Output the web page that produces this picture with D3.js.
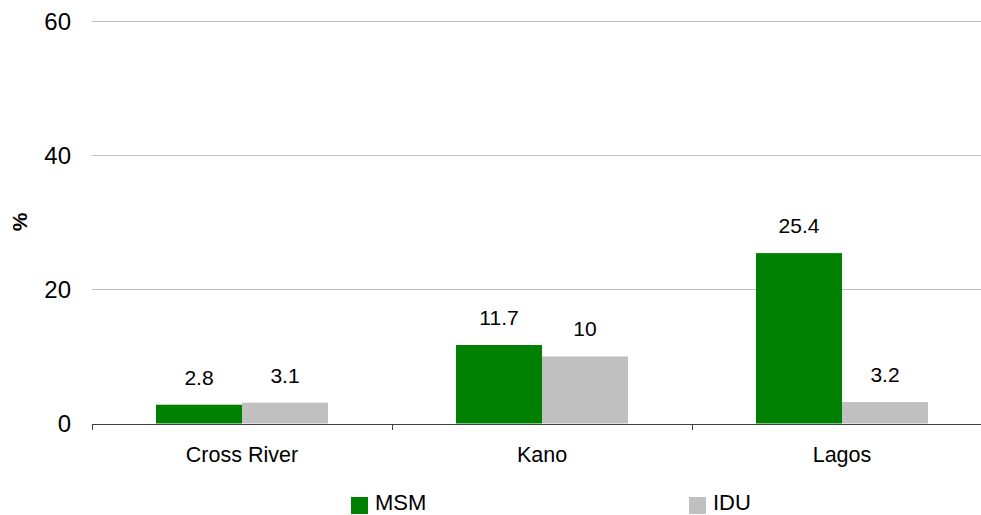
<!DOCTYPE html>
<html>
<head>
<meta charset="utf-8">
<script src="https://cdn.jsdelivr.net/npm/d3@7"></script>
<style>
  html, body { margin: 0; padding: 0; background: #fff; }
  svg { display: block; font-family: "Liberation Sans", Arial, sans-serif; }
</style>
</head>
<body>
<svg id="chart" width="981" height="515"></svg>
<script>
const categories = ["Cross River", "Kano", "Lagos"];
const seriesNames = ["MSM", "IDU"];
const msmValues = [2.8, 11.7, 25.4];
const iduValues = [3.1, 10, 3.2];
const valueLabels = [["2.8", "11.7", "25.4"], ["3.1", "10", "3.2"]];
const yTicks = [0, 20, 40, 60];
const colors = ["#008000", "#c0c0c0"];

(function () {
const svg = d3.select("#chart");
const plotLeft = 92, plotRight = 992, plotTop = 21, plotBottom = 423.5;

const x = d3.scaleBand().domain(categories).range([plotLeft, plotRight]).paddingInner(0).paddingOuter(0);
const y = d3.scaleLinear().domain([0, 60]).range([plotBottom, plotTop]);
const groupW = 172;
const xs = d3.scaleBand().domain(seriesNames).range([0, groupW]).padding(0);

// gridlines
svg.append("g").selectAll("line").data(yTicks.filter(d => d > 0)).join("line")
  .attr("x1", plotLeft).attr("x2", 981)
  .attr("y1", d => Math.round(y(d)) + 0.5).attr("y2", d => Math.round(y(d)) + 0.5)
  .attr("stroke", "#c0c0c0").attr("stroke-width", 1);

// y tick labels
svg.append("g").selectAll("text").data(yTicks).join("text")
  .attr("x", 71).attr("y", d => y(d)).attr("dy", "0.36em")
  .attr("text-anchor", "end").attr("font-size", 24).attr("fill", "#000")
  .text(d => d);

// y title
svg.append("text").attr("transform", `translate(27,222) rotate(-90)`)
  .attr("text-anchor", "middle").attr("font-size", 21).attr("font-weight", "bold")
  .text("%");

const series = [msmValues, iduValues];
series.forEach((vals, si) => {
  const g = svg.append("g");
  g.selectAll("rect").data(categories).join("rect")
    .attr("x", d => x(d) + (x.bandwidth() - groupW) / 2 + xs(seriesNames[si]))
    .attr("width", xs.bandwidth())
    .attr("y", (d, i) => y(vals[i]))
    .attr("height", (d, i) => y(0) - y(vals[i]))
    .attr("fill", colors[si]);
  g.selectAll("text").data(categories).join("text")
    .attr("x", d => x(d) + (x.bandwidth() - groupW) / 2 + xs(seriesNames[si]) + xs.bandwidth() / 2)
    .attr("y", (d, i) => y(vals[i]) - 20)
    .attr("text-anchor", "middle").attr("font-size", 21).attr("fill", "#000")
    .text((d, i) => valueLabels[si][i]);
});

// x axis
const xAxis = svg.append("g").attr("transform", `translate(0,${Math.round(plotBottom)})`);
xAxis.append("line").attr("x1", plotLeft).attr("x2", 981).attr("y1", 0.5).attr("y2", 0.5)
  .attr("stroke", "#404040").attr("stroke-width", 1);
const bounds = [plotLeft, ...categories.map(c => x(c) + x.bandwidth())];
xAxis.selectAll("line.tick").data(bounds).join("line").attr("class", "tick")
  .attr("x1", d => d + 0.5).attr("x2", d => d + 0.5).attr("y1", 0).attr("y2", 6)
  .attr("stroke", "#404040");
xAxis.selectAll("text").data(categories).join("text")
  .attr("x", d => x(d) + x.bandwidth() / 2).attr("y", 38)
  .attr("text-anchor", "middle").attr("font-size", 21.5).attr("fill", "#000")
  .text(d => d);

// legend
const legendX = [351, 689];
const lg = svg.append("g");
seriesNames.forEach((s, i) => {
  lg.append("rect").attr("x", legendX[i]).attr("y", 497).attr("width", 17).attr("height", 17).attr("fill", colors[i]);
  lg.append("text").attr("x", legendX[i] + 24).attr("y", 510).attr("font-size", 22).attr("fill", "#000").text(s);
});
})();
</script>
</body>
</html>
